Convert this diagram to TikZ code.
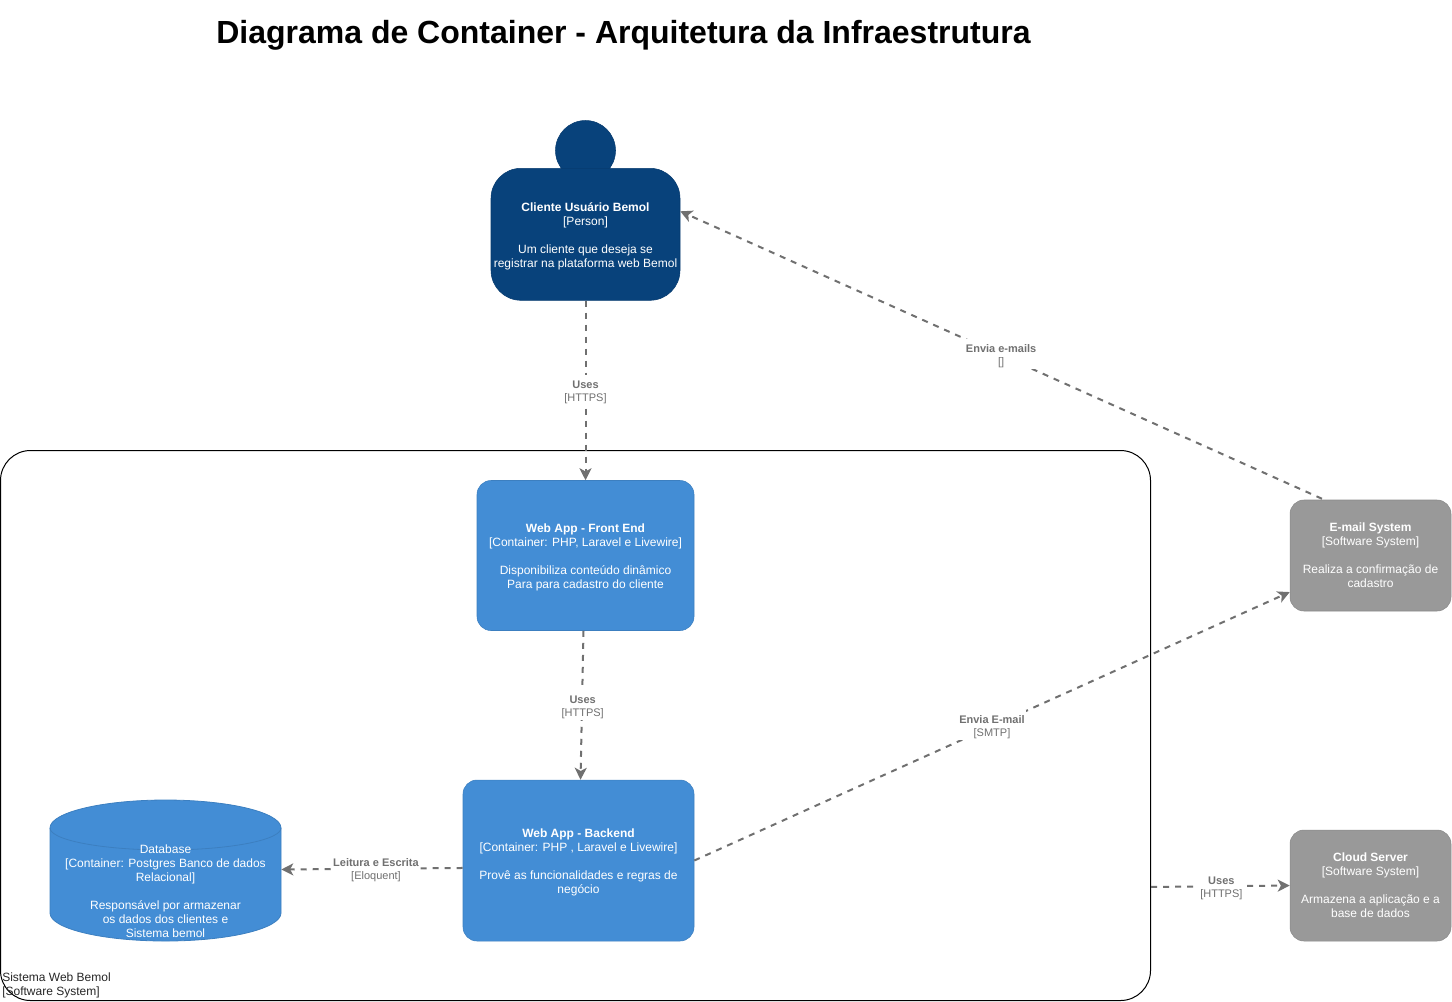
\documentclass[tikz,border=0pt]{standalone}
\usepackage{fontspec}
\setmainfont{Liberation Sans}
\usetikzlibrary{arrows.meta}
\definecolor{personfill}{HTML}{08427B}
\definecolor{personline}{HTML}{073B6F}
\definecolor{containerfill}{HTML}{438DD5}
\definecolor{containerline}{HTML}{3C7FC0}
\definecolor{systemfill}{HTML}{999999}
\definecolor{systemline}{HTML}{8A8A8A}
\definecolor{linkgray}{HTML}{707070}
\newcommand{\topfix}{\rule{0pt}{9pt}}
\newcommand{\lblfix}{\rule{0pt}{9pt}}
\tikzset{
  boxbase/.style={rectangle,inner sep=0pt,align=center,text=white,
    font=\fontsize{9}{10.5}\selectfont},
  personbox/.style={boxbase,draw=personline,fill=personfill,rounded corners=22.5pt,
    minimum width=141.75pt,minimum height=99pt},
  containerbox/.style={boxbase,draw=containerline,fill=containerfill,rounded corners=10.5pt},
  systembox/.style={boxbase,draw=systemline,fill=systemfill,rounded corners=10.5pt,
    minimum width=120.75pt},
  link/.style={draw=linkgray,line width=1.5pt,dash pattern=on 4.5pt off 4.5pt,
    -{Stealth[length=9pt,width=9pt,inset=2.4pt]}},
  linklabel/.style={fill=white,inner sep=1pt,align=center,text=linkgray,
    font=\fontsize{8.25}{9.75}\selectfont},
}
\begin{document}
\begin{tikzpicture}[x=0.75pt,y=-0.75pt]
\useasboundingbox (0,0) rectangle (1452,1001);
\node[anchor=center,inner sep=0pt,font=\fontsize{24}{28}\selectfont\bfseries] (title) at (623.5,35) {Diagrama de Container - Arquitetura da Infraestrutura};

% boundary
\node[draw=black,line width=0.75pt,rectangle,rounded corners=22.5pt,minimum width=862.5pt,minimum height=412.5pt,inner sep=0pt] (boundary) at (575.5,725.5) {};
\node[anchor=south west,inner sep=0pt,align=left,text=black!85,font=\fontsize{9}{10.5}\selectfont] (boundarylabel) at (2,998) {Sistema Web Bemol\\{[Software System]}};

% person
\node[circle,fill=personfill,draw=personline,minimum size=45pt,inner sep=0pt] (head) at (585.5,150.5) {};
\node[personbox] (cliente) at (585.5,234.3) {\topfix\textbf{Cliente Usuário Bemol}\\{[Person]}\\[10.5pt]Um cliente que deseja se\\registrar na plataforma web Bemol};

% containers
\node[containerbox,minimum width=162.75pt,minimum height=112.5pt] (front) at (585.5,555.5) {\topfix\textbf{Web App - Front End}\\{[Container: PHP, Laravel e Livewire]}\\[10.5pt]Disponibiliza conteúdo dinâmico\\Para para cadastro do cliente};
\node[containerbox,minimum width=173.25pt,minimum height=120.75pt] (backend) at (578.5,860.5) {\topfix\textbf{Web App - Backend}\\{[Container: PHP , Laravel e Livewire]}\\[10.5pt]Provê as funcionalidades e regras de\\negócio};

% database
\path[fill=containerfill,draw=containerline,line width=0.6pt]
  (50,828) .. controls (50,812.5) and (101.7,800) .. (165.5,800)
  .. controls (229.3,800) and (281,812.5) .. (281,828)
  -- (281,913)
  .. controls (281,928.5) and (229.3,941) .. (165.5,941)
  .. controls (101.7,941) and (50,928.5) .. (50,913) -- cycle;
\path[draw=containerline,line width=0.6pt]
  (50,828) .. controls (50,840) and (101.7,850) .. (165.5,850)
  .. controls (229.3,850) and (281,840) .. (281,828);
\node[rectangle,inner sep=0pt,minimum width=173.25pt,minimum height=105.75pt] (db) at (165.5,869.5) {};
\node[boxbase] (dbtext) at (165.5,891.2) {Database\\{[Container: Postgres Banco de dados}\\Relacional]\\[10.5pt]Responsável por armazenar\\os dados dos clientes e\\Sistema bemol};

% external systems
\node[systembox,minimum height=83.25pt] (email) at (1370.5,555.5) {\textbf{E-mail System}\\{[Software System]}\\[10.5pt]Realiza a confirmação de\\cadastro};
\node[systembox,minimum height=83.25pt] (cloud) at (1370.5,885.5) {\textbf{Cloud Server}\\{[Software System]}\\[10.5pt]Armazena a aplicação e a\\base de dados};

% connectors
\draw[link] (cliente.south) -- node[linklabel,pos=.5] (l1) {\lblfix\textbf{Uses}\\{[HTTPS]}} (front.north);
\draw[link] ([xshift=-36.4pt,yshift=0.75pt]email.north) -- node[linklabel,pos=.5,yshift=0.75pt] (l2) {\lblfix\textbf{Envia e-mails}\\{[]}} ([yshift=17.25pt]cliente.east);
\draw[link] ([xshift=-1.5pt]front.south) -- node[linklabel,pos=.5,xshift=0.5pt] (l3) {\lblfix\textbf{Uses}\\{[HTTPS]}} ([xshift=1.5pt]backend.north);
\draw[link] ([yshift=-5.6pt]backend.west) -- node[linklabel,pos=.478,yshift=0.5pt] (l4) {\lblfix\textbf{Leitura e Escrita}\\{[Eloquent]}} (db.east);
\draw[link] (backend.east) -- node[linklabel,pos=.5,yshift=0.75pt] (l5) {\lblfix\textbf{Envia E-mail}\\{[SMTP]}} ([yshift=-27.4pt]email.west);
\draw[link] ([yshift=-121.1pt]boundary.east) -- node[linklabel,pos=.5,xshift=0.75pt] (l6) {\lblfix\textbf{Uses}\\{[HTTPS]}} (cloud.west);
\end{tikzpicture}
\end{document}
